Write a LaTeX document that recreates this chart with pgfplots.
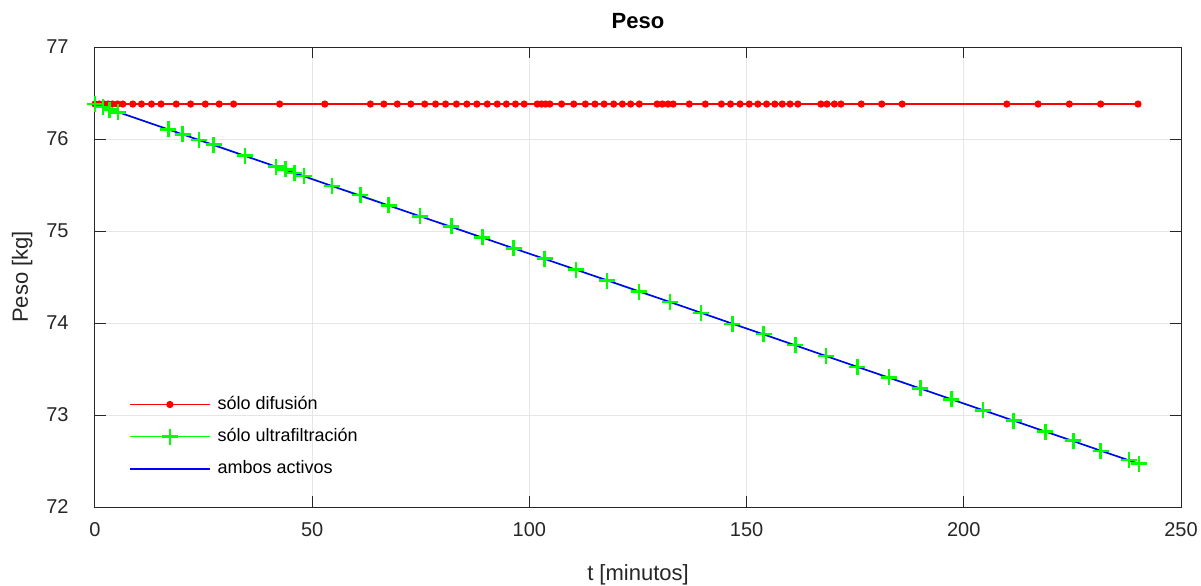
\documentclass[border=0pt]{standalone}
\usepackage{fontspec}
\setmainfont{Liberation Sans}
\usepackage{pgfplots}
\pgfplotsset{compat=1.18}
\definecolor{axgray}{RGB}{38,38,38}
\definecolor{gridgray}{RGB}{230,230,230}
\definecolor{mred}{RGB}{255,0,0}
\definecolor{mgreen}{RGB}{0,255,0}
\definecolor{mblue}{RGB}{0,0,255}
\begin{document}
\begin{tikzpicture}
\begin{axis}[
  at={(0,0)}, anchor=south west,
  scale only axis, width=543pt, height=230pt,
  xmin=0, xmax=250, ymin=72, ymax=77,
  xtick={0,50,100,150,200,250},
  ytick={72,73,74,75,76,77},
  /pgf/number format/assume math mode=true,
  tick label style={font=\fontsize{10}{12}\selectfont, text=axgray},
  xticklabel style={anchor=base, yshift=-14.5pt},
  yticklabel style={anchor=east, inner sep=0pt, xshift=-13pt},
  axis line style={axgray, line width=0.5pt},
  tick style={axgray, line width=0.5pt},
  major tick length=5.4pt,
  tick align=inside,
  grid=major,
  major grid style={gridgray, line width=0.5pt},
  title={\textbf{Peso}},
  title style={at={(axis description cs:0.5,1.0152)}, anchor=base, font=\fontsize{11}{13}\selectfont},
  xlabel={t [minutos]},
  xlabel style={at={(axis description cs:0.5,-0.1587)}, anchor=base, font=\fontsize{11}{13}\selectfont, text=axgray},
  ylabel={Peso [kg]},
  ylabel style={at={(axis description cs:-0.0617,0.5)}, anchor=base, font=\fontsize{11}{13}\selectfont, text=axgray},
  legend style={draw=none, fill=none, at={(axis description cs:0.031,0.25)}, anchor=north west,
    font=\fontsize{9}{11}\selectfont, row sep=4pt, inner sep=0pt,
    /tikz/every odd column/.append style={column sep=1.5pt}},
  legend cell align=left,
  legend image code/.code={%
    \draw[#1, mark=none] (0pt,0pt) -- (40pt,0pt);
    \draw[#1, draw opacity=0] plot coordinates {(20pt,0pt)};},
]
\addplot[color=mred, line width=0.6pt, mark=*, mark size=1.5pt, mark options={solid, draw opacity=1, draw=mred, fill=mred}] coordinates {
(0,76.38) (1.0,76.38) (2.1,76.38) (3.0,76.38) (4.0,76.38) (5.2,76.38)
(6.4,76.38) (8.7,76.38) (10.7,76.38) (13.0,76.38) (15.2,76.38) (18.7,76.38)
(22.0,76.38) (25.4,76.38) (28.6,76.38) (31.9,76.38) (42.5,76.38) (52.9,76.38)
(63.4,76.38) (66.5,76.38) (69.6,76.38) (72.7,76.38) (75.9,76.38) (78.4,76.38)
(80.7,76.38) (83.2,76.38) (85.6,76.38) (87.9,76.38) (90.3,76.38) (92.6,76.38)
(94.7,76.38) (96.8,76.38) (98.8,76.38) (101.8,76.38) (102.8,76.38) (103.7,76.38)
(104.7,76.38) (107.4,76.38) (110.2,76.38) (112.9,76.38) (115.1,76.38) (117.2,76.38)
(119.4,76.38) (121.4,76.38) (123.3,76.38) (125.3,76.38) (129.4,76.38) (130.6,76.38)
(131.9,76.38) (133.1,76.38) (136.8,76.38) (140.5,76.38) (144.2,76.38) (146.3,76.38)
(148.5,76.38) (150.6,76.38) (152.6,76.38) (154.6,76.38) (156.5,76.38) (158.2,76.38)
(160.0,76.38) (161.8,76.38) (167.1,76.38) (168.5,76.38) (170.2,76.38) (171.7,76.38)
(176.4,76.38) (181.1,76.38) (185.8,76.38) (209.9,76.38) (217.1,76.38) (224.3,76.38)
(231.5,76.38) (240.1,76.38)
};
\addlegendentry{sólo difusión}
\addplot[color=mgreen, line width=0.6pt, mark=+, mark size=4pt, mark options={solid, draw opacity=1, draw=mgreen, line width=1.3pt}] coordinates {
(0,76.38) (1.8,76.35) (3.4,76.32) (5.3,76.29)
(16.9,76.105) (20.2,76.05) (23.9,75.99) (27.3,75.94) (34.5,75.82)
(41.7,75.70) (43.8,75.67) (45.9,75.63) (48.1,75.60) (54.6,75.49)
(61.1,75.39) (67.6,75.28) (74.8,75.16) (82.0,75.05) (89.2,74.93)
(96.4,74.81) (103.5,74.70) (110.7,74.58) (117.9,74.46) (125.2,74.34)
(132.4,74.23) (139.5,74.11) (146.7,73.99) (153.9,73.88) (161.2,73.76)
(168.3,73.64) (175.5,73.52) (182.8,73.41) (190.0,73.29) (197.1,73.17)
(204.4,73.05) (211.5,72.94) (218.8,72.82) (225.2,72.72) (231.5,72.61)
(238.0,72.51) (240.3,72.47)
};
\addlegendentry{sólo ultrafiltración}
\addplot[color=mblue, line width=0.8pt, mark=none] coordinates {
(0,76.38) (60,75.40) (120,74.43) (180,73.45) (240.3,72.47)
};
\addlegendentry{ambos activos}
\end{axis}
\pgfresetboundingbox
\path[use as bounding box] (-47.5pt,-39pt) rectangle (553pt,253.5pt);
\end{tikzpicture}
\end{document}
